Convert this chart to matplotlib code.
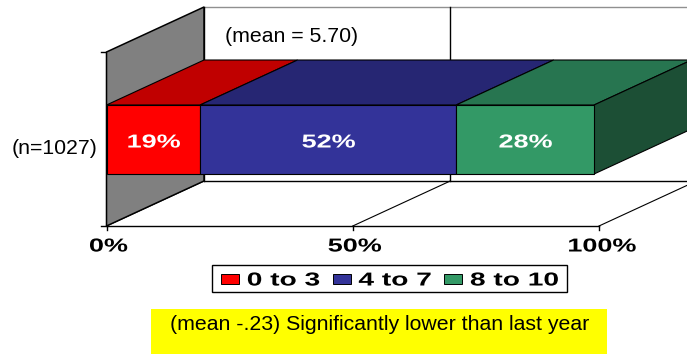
import matplotlib
matplotlib.use('Agg')
import matplotlib.pyplot as plt
from matplotlib.patches import Polygon, Rectangle
from matplotlib.patheffects import AbstractPathEffect
from matplotlib.transforms import Affine2D

#%% data
categories = ['0 to 3', '4 to 7', '8 to 10']
values = [19, 52, 28]
row_label = '(n=1027)'
ticks = [0, 50, 100]
front_colors = ['#ff0000', '#333399', '#339966']
top_colors = ['#c00000', '#262673', '#277550']
side_color = '#1c4f35'
wall_color = '#808080'

# chart geometry in pixels, the depth is the same oblique offset everywhere
X0, X100 = 106.5, 599
DX, DY = 97.5, -45
BAR_TOP, BAR_BOT = 105, 174
WALL_TOP, WALL_BOT = 52, 226


def px(pct):
    return X0 + (X100 - X0) * pct / 100


class Wide(AbstractPathEffect):
    """Stretch text horizontally around its own centre."""

    def __init__(self, sx):
        super().__init__()
        self.sx = sx

    def draw_path(self, renderer, gc, tpath, affine, rgbFace=None):
        ext = tpath.get_extents()
        cx = (ext.x0 + ext.x1) / 2
        stretch = Affine2D().translate(-cx, 0).scale(self.sx, 1).translate(cx, 0)
        renderer.draw_path(gc, tpath, stretch + affine, rgbFace)


def wide_text(ax, x, y, s, color='black', size=13.5, sx=1.44):
    ax.text(x, y, s, color=color, fontsize=size, fontweight='bold', ha='center', va='center',
            family='Liberation Sans', path_effects=[Wide(sx)], zorder=6)


def poly(ax, pts, fc, lw=0.8, z=2):
    ax.add_patch(Polygon(pts, closed=True, facecolor=fc, edgecolor='black', linewidth=lw, zorder=z))


fig = plt.figure(figsize=(6.87, 3.54), dpi=100)
ax = fig.add_axes([0, 0, 1, 1])
ax.set_xlim(0, 687)
ax.set_ylim(354, 0)
ax.axis('off')

#%% walls and grid
poly(ax, [(X0, WALL_TOP), (X0 + DX, WALL_TOP + DY), (X0 + DX, WALL_BOT + DY), (X0, WALL_BOT)], wall_color, lw=1.1)
ax.plot([X0 + DX, 700], [WALL_TOP + DY] * 2, color='#909090', lw=1, zorder=1)
ax.plot([X0 + DX, 700], [WALL_BOT + DY] * 2, color='black', lw=1, zorder=1)
ax.plot([X0, X100], [WALL_BOT, WALL_BOT], color='black', lw=1, zorder=1)
ax.plot([X0 - 6, X0], [WALL_TOP, WALL_TOP], color='black', lw=1, zorder=1)
ax.plot([X0 - 6, X0], [WALL_BOT, WALL_BOT], color='black', lw=1, zorder=1)
tick_shift = {0: 2, 50: 2, 100: 3}
for t in ticks:
    ax.plot([px(t), px(t)], [WALL_BOT, WALL_BOT + 4], color='black', lw=1, zorder=1)
    ax.plot([px(t), px(t) + DX], [WALL_BOT, WALL_BOT + DY], color='black', lw=0.8, zorder=1)
    ax.plot([px(t) + DX, px(t) + DX], [WALL_TOP + DY, WALL_BOT + DY], color='black', lw=1, zorder=1)
    wide_text(ax, px(t) + tick_shift[t], 247, f'{t}%')

#%% stacked bar
left = 0
for val, cat, fc, tc in zip(values, categories, front_colors, top_colors):
    a, b = px(left), px(left + val)
    poly(ax, [(a, BAR_TOP), (a + DX, BAR_TOP + DY), (b + DX, BAR_TOP + DY), (b, BAR_TOP)], tc, z=3)
    ax.add_patch(Rectangle((a, BAR_TOP), b - a, BAR_BOT - BAR_TOP, facecolor=fc, edgecolor='black', linewidth=0.8, zorder=4))
    wide_text(ax, (a + b) / 2 + 0.5, 143, f'{val}%', color='white')
    left += val
# right hand end of the last segment
b = px(left)
poly(ax, [(b, BAR_TOP), (b + DX, BAR_TOP + DY), (b + DX, BAR_BOT + DY), (b, BAR_BOT)], side_color, z=3)

#%% text around the plot
ax.text(225, 36.5, '(mean = 5.70)', fontsize=15.3, family='Liberation Sans', ha='left', va='center', zorder=6)
ax.text(12, 149, row_label, fontsize=15.3, family='Liberation Sans', ha='left', va='center', zorder=6)

#%% legend
ax.add_patch(Rectangle((212, 265), 355, 27, facecolor='white', edgecolor='black', linewidth=1, zorder=5))
for cat, fc, sw, tx in zip(categories, front_colors, [221, 333, 444], [283.5, 395, 514.5]):
    ax.add_patch(Rectangle((sw, 274), 18, 10, facecolor=fc, edgecolor='black', linewidth=0.7, zorder=6))
    wide_text(ax, tx, 281, cat, sx=1.5)

#%% note
ax.add_patch(Rectangle((151, 309), 456, 45, facecolor='#ffff00', edgecolor='none', zorder=5))
ax.text(379.5, 325, '(mean -.23) Significantly lower than last year', fontsize=15.3, family='Liberation Sans',
        ha='center', va='center', zorder=6)

fig.savefig('out.png', dpi=100)
